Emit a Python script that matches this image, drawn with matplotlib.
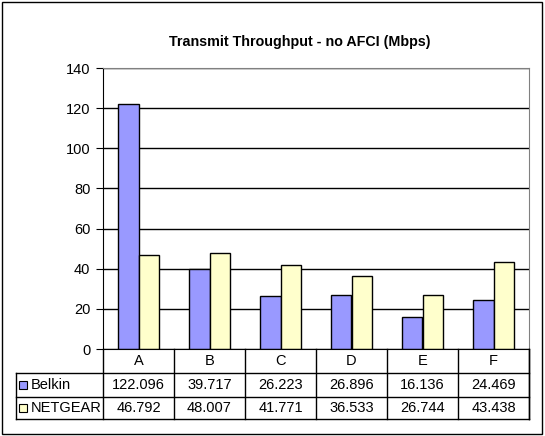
import matplotlib
matplotlib.use('Agg')
import matplotlib.pyplot as plt
from matplotlib.transforms import blended_transform_factory
from matplotlib.patches import Rectangle
import numpy as np

categories = ['A', 'B', 'C', 'D', 'E', 'F']
belkin = [122.096, 39.717, 26.223, 26.896, 16.136, 24.469]
netgear = [46.792, 48.007, 41.771, 36.533, 26.744, 43.438]
series_names = ['Belkin', 'NETGEAR']
colors = ['#9999FF', '#FFFFCC']

W, H = 545, 436
plt.rcParams['font.family'] = ['Liberation Sans', 'DejaVu Sans']

fig = plt.figure(figsize=(W / 100, H / 100), dpi=100)

def fy(py):
    return 1 - py / H

# outer border
fig.patches.append(Rectangle((2 / W, fy(434)), 540 / W, 432 / H, transform=fig.transFigure,
                             fill=False, edgecolor='black', linewidth=1))

left, right, top, bottom = 103, 529, 68, 349
ax = fig.add_axes([left / W, fy(bottom), (right - left) / W, (bottom - top) / H])

x = np.arange(len(categories))
bw = 0.2857
ax.bar(x - bw / 2, belkin, bw, color=colors[0], edgecolor='black', linewidth=1)
ax.bar(x + bw / 2, netgear, bw, color=colors[1], edgecolor='black', linewidth=1)

ax.set_xlim(-0.5, len(categories) - 0.5)
ax.set_ylim(0, 140)
ax.set_yticks(range(0, 141, 20))
ax.yaxis.grid(True, color='black', linewidth=1)
ax.set_axisbelow(True)
ax.set_xticks([])
ax.tick_params(axis='y', direction='out', length=5, labelsize=10.5, pad=4)
for s in ['top', 'right']:
    ax.spines[s].set_color('#808080')
ax.spines['left'].set_color('black')
ax.spines['bottom'].set_color('black')

fig.text(300 / W, fy(42), 'Transmit Throughput - no AFCI (Mbps)', ha='center', va='center',
         fontsize=10.3, fontweight='bold')

# data table below the axes
tr = blended_transform_factory(ax.transData, fig.transFigure)
tf = fig.transFigure
row_y = [349, 373, 397, 419]
tab_left = 16
lw = 1
fs = 10.5

def hline(py, x0, x1):
    fig.add_artist(plt.Line2D([x0 / W, x1 / W], [fy(py), fy(py)], transform=tf, color='black', linewidth=lw))

def vline(px, y0, y1):
    fig.add_artist(plt.Line2D([px / W, px / W], [fy(y0), fy(y1)], transform=tf, color='black', linewidth=lw))

for py in row_y[1:]:
    hline(py, tab_left, right)
vline(tab_left, row_y[1], row_y[3])
vline(right, row_y[0], row_y[3])
for i in range(len(categories) + 1):
    bx = ax.transData.transform((i - 0.5, 0))[0]
    vline(bx, row_y[0], row_y[3])

for i, c in enumerate(categories):
    fig.text(i, fy((row_y[0] + row_y[1]) / 2), c, transform=tr, ha='center', va='center', fontsize=fs)
    fig.text(i, fy((row_y[1] + row_y[2]) / 2), f'{belkin[i]:g}', transform=tr, ha='center', va='center', fontsize=fs)
    fig.text(i, fy((row_y[2] + row_y[3]) / 2), f'{netgear[i]:g}', transform=tr, ha='center', va='center', fontsize=fs)

for k, name in enumerate(series_names):
    yc = (row_y[k + 1] + row_y[k + 2]) / 2
    fig.patches.append(Rectangle((19 / W, fy(yc + 4)), 8 / W, 8 / H, transform=tf,
                                 facecolor=colors[k], edgecolor='black', linewidth=0.8))
    fig.text(31 / W, fy(yc), name, ha='left', va='center', fontsize=fs)

fig.savefig('out.png', dpi=100)
